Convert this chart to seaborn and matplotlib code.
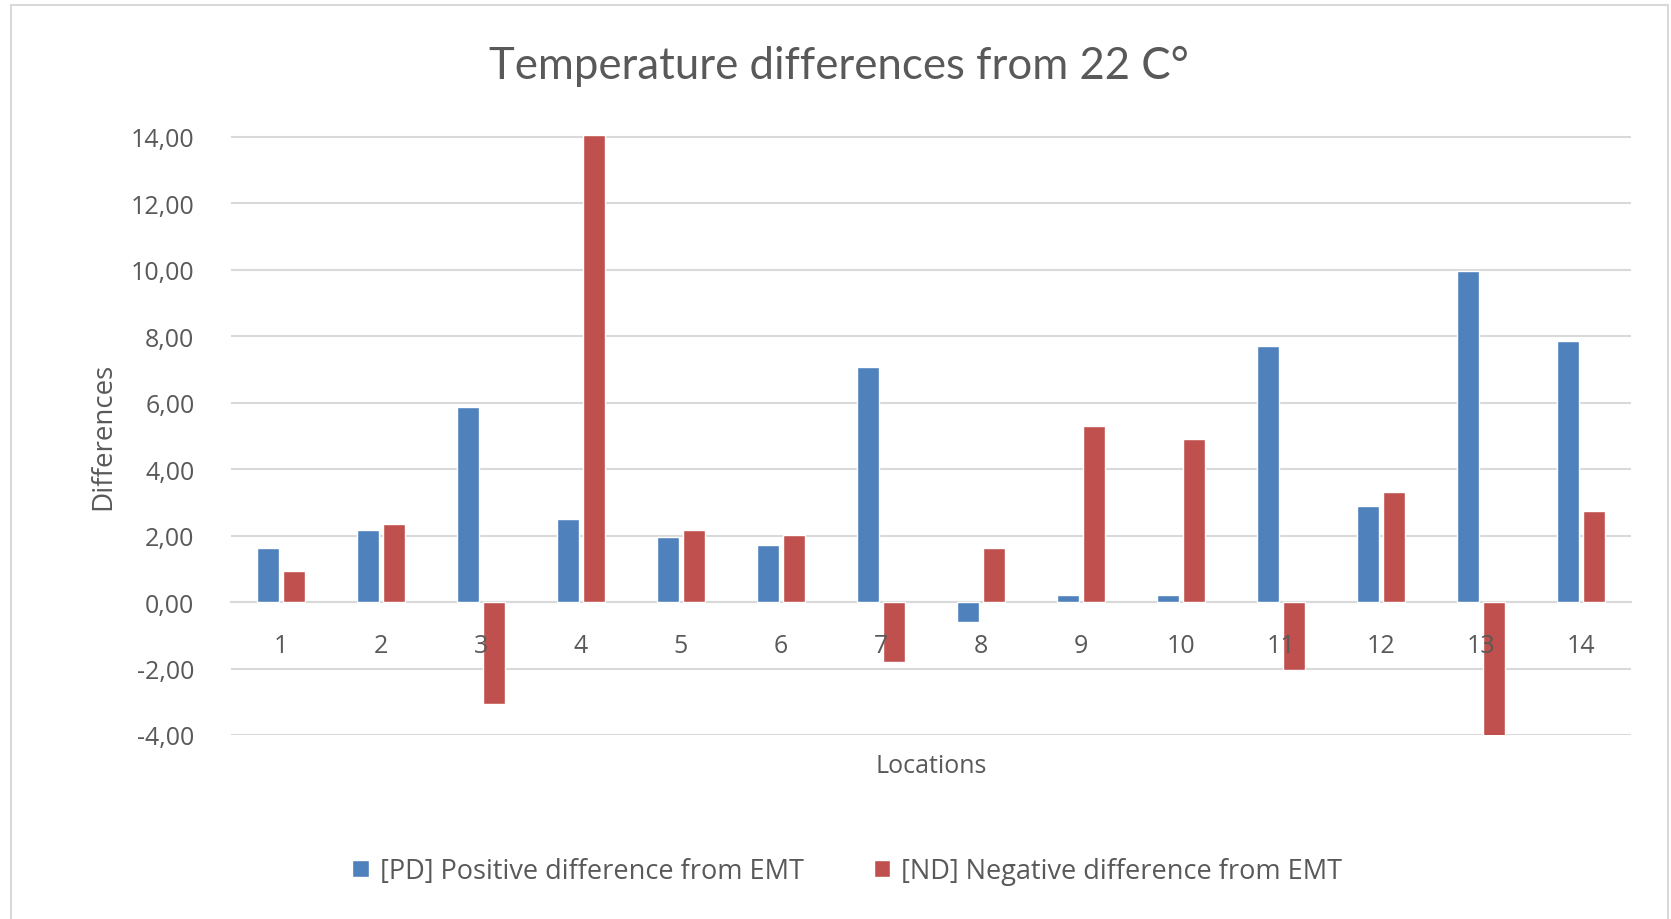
# Temperature differences bar chart
import pandas as pd
import numpy as np
import seaborn as sns
import matplotlib.pyplot as plt
from matplotlib.patches import Rectangle

# chart data
locations = [str(i) for i in range(1, 15)]
pd_values = [1.62, 2.18, 5.87, 2.50, 1.96, 1.71, 7.06, -0.60, 0.20, 0.20, 7.71, 2.90, 9.95, 7.86]
nd_values = [0.92, 2.35, -3.06, 14.05, 2.18, 2.03, -1.81, 1.63, 5.30, 4.91, -2.03, 3.31, -4.02, 2.75]
series_names = ["[PD] Positive difference from EMT", "[ND] Negative difference from EMT"]
y_ticks = [-4, -2, 0, 2, 4, 6, 8, 10, 12, 14]

df = pd.DataFrame({
    "Locations": locations * 2,
    "Differences": pd_values + nd_values,
    "Series": [series_names[0]] * 14 + [series_names[1]] * 14,
})

sns.set_theme(style="white")
plt.rcParams['font.family'] = ['Open Sans', 'DejaVu Sans']
text_color = "#595959"

fig = plt.figure(figsize=(16.71, 9.2), dpi=100)
ax = fig.add_axes([0.138, 0.2, 0.838, 0.652])

sns.barplot(data=df, x="Locations", y="Differences", hue="Series",
            palette=["#4F81BD", "#C0504D"], width=0.52, gap=0.15,
            saturation=1, order=locations, hue_order=series_names, ax=ax, zorder=3)

ax.set_ylim(-4, 14.05)
ax.set_yticks(y_ticks)
ax.set_yticklabels([f"{v:.2f}".replace(".", ",") for v in y_ticks])
ax.set_xlim(-0.5, 13.5)
ax.grid(axis="y", color="#D9D9D9", linewidth=1.5, zorder=0)
for s in ["top", "right", "left"]:
    ax.spines[s].set_visible(False)
ax.spines["bottom"].set_position(("data", 0))
ax.spines["bottom"].set_color("#D9D9D9")
ax.spines["bottom"].set_linewidth(1.5)
# category labels sit on top of the bars, as in the spreadsheet chart
ax.xaxis.set_zorder(5)

ax.tick_params(axis="x", length=0, pad=22, labelsize=18, labelcolor=text_color)
ax.tick_params(axis="y", length=0, pad=26, labelsize=18, labelcolor=text_color)

ax.set_xlabel("Locations", fontsize=18, color=text_color)
ax.xaxis.set_label_coords(0.5, -0.03)
ax.set_ylabel("Differences", fontsize=20, color=text_color)
ax.yaxis.set_label_coords(-0.081, 0.5)

fig.text(0.502, 0.928, "Temperature differences from 22 C°", fontsize=31.5, color=text_color,
         family=["Lato", "DejaVu Sans"], ha="center", va="center")

handles, labels = ax.get_legend_handles_labels()
ax.get_legend().remove()
fig.legend(handles, labels, loc="center", bbox_to_anchor=(0.507, 0.052), ncol=2,
           frameon=False, fontsize=19.5, labelcolor=text_color, handlelength=0.6,
           handleheight=0.6, handletextpad=0.4, columnspacing=2.6)

# light chart border like the spreadsheet chart area
fig.patches.append(Rectangle((0.0066, -0.01), 0.9914, 1.004, transform=fig.transFigure,
                             fill=False, edgecolor="#D9D9D9", linewidth=1.5))

fig.savefig("out.png", dpi=100)
